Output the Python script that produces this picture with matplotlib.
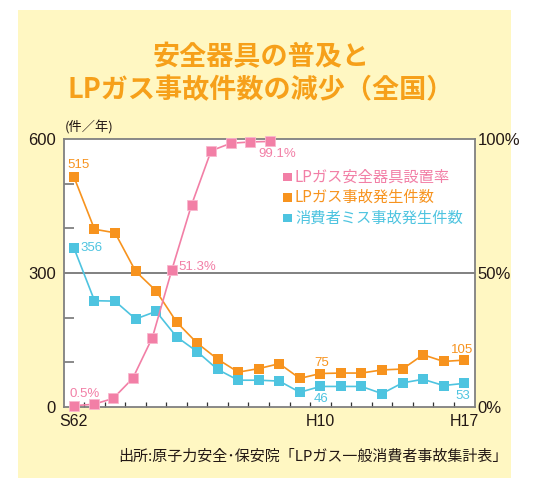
import matplotlib
matplotlib.use("Agg")
import matplotlib.pyplot as plt
from matplotlib.patches import Rectangle
from matplotlib.ticker import FixedLocator

# ---- data ----
x_labels = ["S62", "H10", "H17"]
x_label_idx = [0, 12, 19]
accidents = [515, 398, 390, 304, 260, 190, 143, 107, 78, 86, 97,
             64, 75, 76, 76, 83, 85, 117, 102, 105]
consumer_miss = [356, 238, 237, 197, 214, 157, 124, 84, 60, 60, 58,
                 33, 46, 46, 46, 30, 54, 62, 48, 53]
safety_rate = [0.5, 1.0, 3.2, 10.7, 25.9, 51.3, 75.4, 95.6, 98.4, 98.9, 99.1]

title = "安全器具の普及と\nLPガス事故件数の減少（全国）"
legend_labels = ["LPガス安全器具設置率", "LPガス事故発生件数", "消費者ミス事故発生件数"]
source = "出所:原子力安全･保安院「LPガス一般消費者事故集計表」"

PINK = "#F27FA6"
ORANGE = "#F7931E"
CYAN = "#4EC4E0"
TITLE = "#F6A01A"
GREY = "#808080"
YELLOW = "#FFF7C2"
TXT = "#231815"

JP = ["Noto Sans CJK JP", "DejaVu Sans"]
NUM = ["Liberation Sans", "DejaVu Sans"]

W, H = 537, 487
fig = plt.figure(figsize=(W / 100, H / 100), dpi=100)
fig.patch.set_facecolor("white")


def fx(x):
    return x / W


def fy(y):
    return 1 - y / H


fig.patches.append(Rectangle((fx(18), fy(478)), fx(511) - fx(18), fy(10) - fy(478),
                             transform=fig.transFigure, facecolor=YELLOW,
                             edgecolor="none", zorder=-10))

L, R, T, B = 64.3, 475, 139, 407
ax = fig.add_axes([fx(L), fy(B), fx(R) - fx(L), fy(T) - fy(B)])
ax.set_facecolor("white")
n = len(accidents)
xs = list(range(n))
ax.set_xlim(-0.47, 19.53)
ax.set_ylim(0, 600)

ax.axhline(300, color=GREY, lw=1.4, zorder=1)

ax.plot(xs, accidents, color=ORANGE, lw=1.2, marker="s", ms=6.5, mew=0, zorder=3,
        clip_on=False)
ax.plot(xs, consumer_miss, color=CYAN, lw=1.2, marker="s", ms=6.5, mew=0, zorder=3,
        clip_on=False)

for s in ax.spines.values():
    s.set_color(GREY)
    s.set_linewidth(1.3)

ax.set_yticks([0, 300, 600])
ax.set_yticklabels(["0", "300", "600"], fontfamily=NUM, fontsize=12, color=TXT)
ax.yaxis.set_minor_locator(FixedLocator([100, 200, 400, 500]))
ax.tick_params(axis="y", which="major", length=0, pad=6)
ax.tick_params(axis="y", which="minor", direction="in", length=7, width=1.3,
               color=GREY, left=True, right=True)

ax.set_xticks(x_label_idx)
ax.set_xticklabels(x_labels, fontfamily=NUM, fontsize=11.5, color=TXT)
ax.xaxis.set_minor_locator(FixedLocator([i + 0.5 for i in range(n - 1)]))
ax.tick_params(axis="x", which="major", length=0, pad=5)
ax.tick_params(axis="x", which="minor", direction="in", length=3.6, width=0.9,
               color="#333333")

axr = ax.twinx()
axr.set_ylim(0, 100)
axr.set_yticks([0, 50, 100])
axr.set_yticklabels(["0%", "50%", "100%"], fontfamily=NUM, fontsize=12, color=TXT)
axr.tick_params(axis="y", length=0, pad=2)
for s in axr.spines.values():
    s.set_visible(False)

# pink series on its own overlay axis (its spacing is slightly narrower)
axp = fig.add_axes(ax.get_position(), frameon=False)
axp.set_xlim(-0.495, 20.47)
axp.set_ylim(0, 100)
axp.set_xticks([])
axp.set_yticks([])
axp.plot(range(len(safety_rate)), safety_rate, color=PINK, lw=1.2, marker="s",
         ms=7, mew=0.6, mec="#F9B8CE", zorder=3, clip_on=False)

lab = dict(textcoords="offset pixels", fontfamily=NUM, fontsize=9.5)
ax.annotate("515", (0, accidents[0]), xytext=(5, 12), color=ORANGE, ha="center", va="center", **lab)
ax.annotate("356", (0, consumer_miss[0]), xytext=(7, 0), color=CYAN, ha="left", va="center", **lab)
ax.annotate("75", (12, accidents[12]), xytext=(1, 11), color=ORANGE, ha="center", va="center", **lab)
ax.annotate("46", (12, consumer_miss[12]), xytext=(1, -13), color=CYAN, ha="center", va="center", **lab)
ax.annotate("105", (19, accidents[19]), xytext=(-2, 10), color=ORANGE, ha="center", va="center", **lab)
ax.annotate("53", (19, consumer_miss[19]), xytext=(-1, -13), color=CYAN, ha="center", va="center", **lab)
axp.annotate("0.5%", (0, safety_rate[0]), xytext=(-4, 12), color=PINK, ha="left", va="center", **lab)
axp.annotate("51.3%", (5, safety_rate[5]), xytext=(6, 3), color=PINK, ha="left", va="center", **lab)
axp.annotate("99.1%", (10, safety_rate[10]), xytext=(7, -13), color=PINK, ha="center", va="center", **lab)

# legend
for i, (lbl, c) in enumerate(zip(legend_labels, [PINK, ORANGE, CYAN])):
    yy = 177 + i * 20.5
    fig.patches.append(Rectangle((fx(283), fy(yy + 4)), fx(8.5), fy(0) - fy(8.5),
                                 transform=fig.transFigure, facecolor=c,
                                 edgecolor="none", zorder=5))
    fig.text(fx(295), fy(yy), lbl, color=c, fontsize=11, fontfamily=JP,
             ha="left", va="center", zorder=6)

fig.text(fx(65), fy(128), "(件／年)", fontsize=9.5, fontfamily=JP, color=TXT,
         ha="left", va="center")

fig.text(fx(261), fy(74), title, fontsize=19.5, fontfamily=JP, fontweight="bold",
         color=TITLE, ha="center", va="center", linespacing=1.22)

fig.text(fx(508), fy(457), source, fontsize=10.8, fontfamily=JP, color=TXT,
         ha="right", va="center")

fig.savefig("out.png", dpi=100, facecolor=fig.get_facecolor())
